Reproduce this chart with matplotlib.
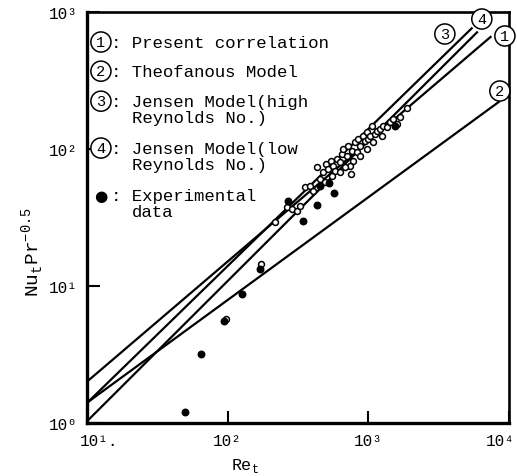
import numpy as np
import matplotlib
matplotlib.use("Agg")
import matplotlib.pyplot as plt
import matplotlib.transforms as mtransforms

# ---------------- data ----------------
# model lines: Nu_t Pr^-0.5 = C * Re_t^n
line_ids = ["1", "2", "3", "4"]
line_names = ["Present correlation", "Theofanous Model",
              "Jensen Model(high Reynolds No.)", "Jensen Model(low Reynolds No.)"]
line_coef = [0.266, 0.25, 0.14, 0.0974]
line_expo = [0.877, 0.75, 1.0, 1.024]
line_re_end = [7500, 8600, 5500, 6000]
line_re_start = 10

# circled labels at the line ends (Re, Nu Pr^-0.5)
lab_re = [9350, 8610, 3500, 6410]
lab_nu = [668, 265, 691, 889]

# experimental data: open circles
open_re = [217, 265, 285, 309, 326, 354, 384, 429, 453, 478, 500, 519, 539, 563,
           579, 595, 628, 646, 664, 700, 720, 760, 781, 803, 826, 848, 871, 920,
           946, 972, 998, 1026, 1054, 1084, 1114, 1146, 1208, 1242, 1276, 1349,
           1423, 1503, 1588, 1678, 1871, 740, 682, 548, 492, 406, 628, 871, 972,
           748, 97, 172]
open_nu = [29.5, 37.5, 36.5, 35.5, 38.6, 52.5, 54.0, 74.3, 60.4, 67.6, 77.7, 71.4,
           82.2, 75.5, 69.5, 84.6, 80.0, 92.0, 100, 89.4, 106, 97.2, 82.2, 112,
           94.6, 118, 106, 125, 115, 132, 118, 125, 146, 112, 129, 136, 140, 125,
           148, 144, 157, 166, 152, 170, 199, 75.5, 73.5, 63.8, 57.1, 49.6, 67.6,
           89.4, 100, 65.8, 5.7, 14.5]

# experimental data: filled dots
fill_re = [49.8, 64.6, 94.1, 126, 170, 267, 343, 431, 569, 525, 1545, 453]
fill_nu = [1.20, 3.19, 5.55, 8.74, 13.3, 42.0, 29.8, 39.0, 47.7, 56.5, 147, 54.0]

x_ticks = [10, 100, 1000, 10000]
x_ticklabels = ["10¹.", "10²", "10³", "10⁴"]
y_ticks = [1, 10, 100, 1000]
y_ticklabels = ["10⁰", "10¹", "10²", "10³"]

# ---------------- figure ----------------
MONO = ["Liberation Mono", "DejaVu Sans Mono"]
plt.rcParams["font.family"] = MONO

fig = plt.figure(figsize=(5.17, 4.77), dpi=100)
ax = fig.add_axes([87/517, 1-424/477, (509-87)/517, (424-13)/477])
ax.set_xscale("log")
ax.set_yscale("log")
ax.set_xlim(10, 10000)
ax.set_ylim(1, 1000)

for c, n, re_end in zip(line_coef, line_expo, line_re_end):
    re = np.logspace(np.log10(line_re_start), np.log10(re_end), 50)
    ax.plot(re, c * re ** n, color="black", lw=1.6, solid_capstyle="butt")

ax.scatter(open_re, open_nu, s=18, facecolors="white", edgecolors="black",
           linewidths=1.1, zorder=3)
ax.scatter(fill_re, fill_nu, s=22, color="black", zorder=4)

circ = dict(boxstyle="circle,pad=0.2", fc="white", ec="black", lw=1.1)
for lid, xr, yn in zip(line_ids, lab_re, lab_nu):
    ax.text(xr, yn, lid, ha="center", va="center", fontsize=11, bbox=circ, zorder=5)

# legend block
FS = 12.5
DY = 0.039
leg_y = [0.927, 0.856, 0.783, 0.669]
leg_lines = [["Present correlation"], ["Theofanous Model"],
             ["Jensen Model(high", "Reynolds No.)"],
             ["Jensen Model(low", "Reynolds No.)"]]
for lid, y, txt in zip(line_ids, leg_y, leg_lines):
    ax.text(0.033, y, lid, transform=ax.transAxes, ha="center", va="center",
            fontsize=11, bbox=circ, zorder=5)
    ax.text(0.058, y, ": " + txt[0], transform=ax.transAxes, ha="left",
            va="center", fontsize=FS)
    if len(txt) > 1:
        ax.text(0.106, y - DY, txt[1], transform=ax.transAxes, ha="left",
                va="center", fontsize=FS)
ax.text(0.033, 0.554, "●", transform=ax.transAxes, ha="center", va="center",
        fontsize=11, family=["DejaVu Sans"])
ax.text(0.058, 0.554, ": Experimental", transform=ax.transAxes, ha="left",
        va="center", fontsize=FS)
ax.text(0.106, 0.554 - DY, "data", transform=ax.transAxes, ha="left",
        va="center", fontsize=FS)

# axes styling
ax.set_xticks(x_ticks)
ax.set_xticklabels(x_ticklabels, fontsize=11.5)
ax.set_yticks(y_ticks)
ax.set_yticklabels(y_ticklabels, fontsize=11.5)
ax.minorticks_off()
ax.tick_params(direction="in", length=9, width=1.5, pad=7)
xl = ax.get_xticklabels()
xl[0].set_transform(xl[0].get_transform() +
                    mtransforms.ScaledTranslation(12/100, 0, fig.dpi_scale_trans))
xl[-1].set_transform(xl[-1].get_transform() +
                     mtransforms.ScaledTranslation(-9/100, 0, fig.dpi_scale_trans))
for side in ["left", "bottom"]:
    ax.spines[side].set_linewidth(2.4)
for side in ["right", "top"]:
    ax.spines[side].set_linewidth(1.9)

fig.text(245/517, 1-466/477, "Re$_\\mathregular{t}$", ha="center", va="center",
         fontsize=12)
fig.text(33/517, 1-252/477, "Nu$_\\mathregular{t}$Pr$^\\mathregular{-0.5}$",
         ha="center", va="center", rotation=90, fontsize=14)

fig.savefig("out.png", dpi=100)
